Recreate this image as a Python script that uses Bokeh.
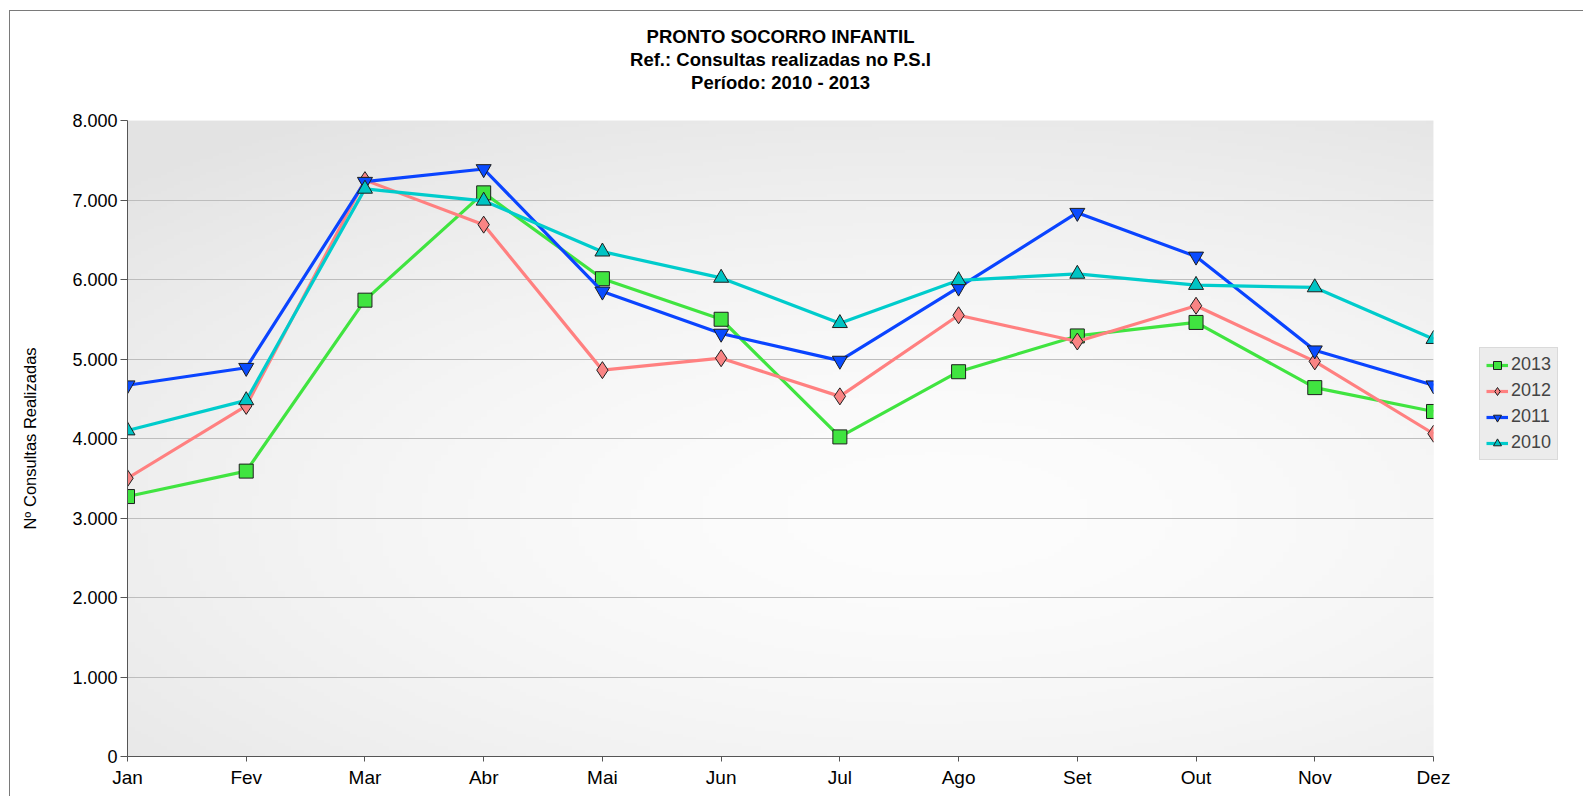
import numpy as np
from bokeh.plotting import figure
from bokeh.models import Range1d, FixedTicker, Legend, LegendItem, Title
from bokeh.embed import file_html
from bokeh.resources import INLINE

# ---------------- data ----------------
months = ["Jan", "Fev", "Mar", "Abr", "Mai", "Jun", "Jul", "Ago", "Set", "Out", "Nov", "Dez"]
v2013 = [3270, 3590, 5740, 7090, 6010, 5500, 4020, 4840, 5290, 5460, 4640, 4340]
v2012 = [3500, 4410, 7250, 6690, 4860, 5010, 4530, 5550, 5220, 5670, 4970, 4060]
v2011 = [4670, 4890, 7230, 7390, 5850, 5320, 4980, 5900, 6840, 6290, 5110, 4670]
v2010 = [4100, 4480, 7140, 6990, 6350, 6020, 5450, 5990, 6070, 5930, 5900, 5250]
y_ticks = [0, 1000, 2000, 3000, 4000, 5000, 6000, 7000, 8000]
y_tick_labels = ["0", "1.000", "2.000", "3.000", "4.000", "5.000", "6.000", "7.000", "8.000"]
title_lines = ["PRONTO SOCORRO INFANTIL", "Ref.: Consultas realizadas no P.S.I", "Período: 2010 - 2013"]
y_label = "Nº Consultas Realizadas"

FONT = "Liberation Sans"
x_idx = list(range(len(months)))
y_max = y_ticks[-1]

p = figure(
    output_backend="svg", toolbar_location=None,
    frame_width=1306, frame_height=636,
    min_border_left=127, min_border_right=148, min_border_top=120, min_border_bottom=40,
    x_range=Range1d(0, len(months) - 1), y_range=Range1d(0, y_max),
    background_fill_color="#f4f4f4", border_fill_color="white", border_fill_alpha=0,
    outline_line_color=None,
)
# outer chart border drawn as a page background (decoration)
p.styles = {
    "background-color": "white",
    "background-image": "linear-gradient(#7a7a7a, #7a7a7a), linear-gradient(#7a7a7a, #7a7a7a)",
    "background-size": "1px 100%, 100% 1px",
    "background-position": "9px 10px, 9px 10px",
    "background-repeat": "no-repeat",
}

# background gradient of the plot area (decoration)
H, W = 200, 200
yy, xx = np.mgrid[0:H, 0:W]
fx = xx / (W - 1)
fy = yy / (H - 1)
d = np.sqrt(((fx - 0.62) / 0.9) ** 2 + ((fy - 0.38) / 0.75) ** 2)
d = np.clip(d, 0, 1)
g = (253 - 26 * d ** 1.6).astype(np.uint32)
img = (255 << 24) | (g << 16) | (g << 8) | g
p.image_rgba(image=[img.astype(np.uint32)], x=0, y=0, dw=len(months) - 1, dh=y_max, level="image")

# titles (added bottom-up, spacer closest to the frame)
def mk_title(txt, size="18.5px"):
    return Title(text=txt, align="center", text_font=FONT, text_font_size=size,
                 text_font_style="bold", text_color="black", standoff=0)

p.title.visible = False
p.add_layout(mk_title(" ", "23px"), "above")
p.add_layout(mk_title(title_lines[2]), "above")
p.add_layout(mk_title(title_lines[1]), "above")
p.add_layout(mk_title(title_lines[0]), "above")

# axes
p.xaxis.ticker = FixedTicker(ticks=x_idx)
p.xaxis.major_label_overrides = {i: m for i, m in zip(x_idx, months)}
p.yaxis.ticker = FixedTicker(ticks=y_ticks)
p.yaxis.major_label_overrides = {t: l for t, l in zip(y_ticks, y_tick_labels)}
for ax in (p.xaxis, p.yaxis):
    ax.axis_line_color = "#555555"
    ax.major_tick_line_color = "#555555"
    ax.minor_tick_line_color = None
    ax.major_tick_in = 0
    ax.major_label_text_font = FONT
    ax.major_label_text_color = "black"
p.xaxis.major_tick_out = 5
p.xaxis.major_label_standoff = 5
p.xaxis.major_label_text_font_size = "19px"
p.yaxis.major_tick_out = 7
p.yaxis.major_label_standoff = 3
p.yaxis.major_label_text_font_size = "18px"
p.yaxis.axis_label = y_label
p.yaxis.axis_label_text_font = FONT
p.yaxis.axis_label_text_font_size = "16.5px"
p.yaxis.axis_label_text_font_style = "normal"
p.yaxis.axis_label_text_color = "black"
p.yaxis.axis_label_standoff = 30

p.xgrid.visible = False
p.ygrid.grid_line_color = "#bdbdbd"
p.ygrid.grid_line_width = 1

series = [
    ("2013", v2013, "#40e440", "#40e440", "square", 14),
    ("2012", v2012, "#ff8080", "#f98484", "diamond", 17),
    ("2011", v2011, "#0a44ff", "#0a4cff", "inverted_triangle", 15),
    ("2010", v2010, "#00cccc", "#00c4c4", "triangle", 15),
]
items = []
for label, vals, lc, fc, marker, size in series:
    ln = p.line(x_idx, vals, line_color=lc, line_width=3.2)
    sc = p.scatter(x_idx, vals, marker=marker, size=size, fill_color=fc,
                   line_color="#1e1e1e", line_width=1)
    items.append(LegendItem(label=label, renderers=[ln, sc]))

legend = Legend(items=items, location=(46, 296), orientation="vertical",
                label_text_font=FONT, label_text_font_size="18px",
                glyph_width=22, glyph_height=20, label_height=20, label_standoff=3,
                spacing=5, padding=6, margin=0,
                background_fill_color="#ececec", background_fill_alpha=1,
                border_line_color="#c8c8c8", border_line_width=1)
p.add_layout(legend, "right")

open("out.html", "w").write(file_html(p, INLINE))
